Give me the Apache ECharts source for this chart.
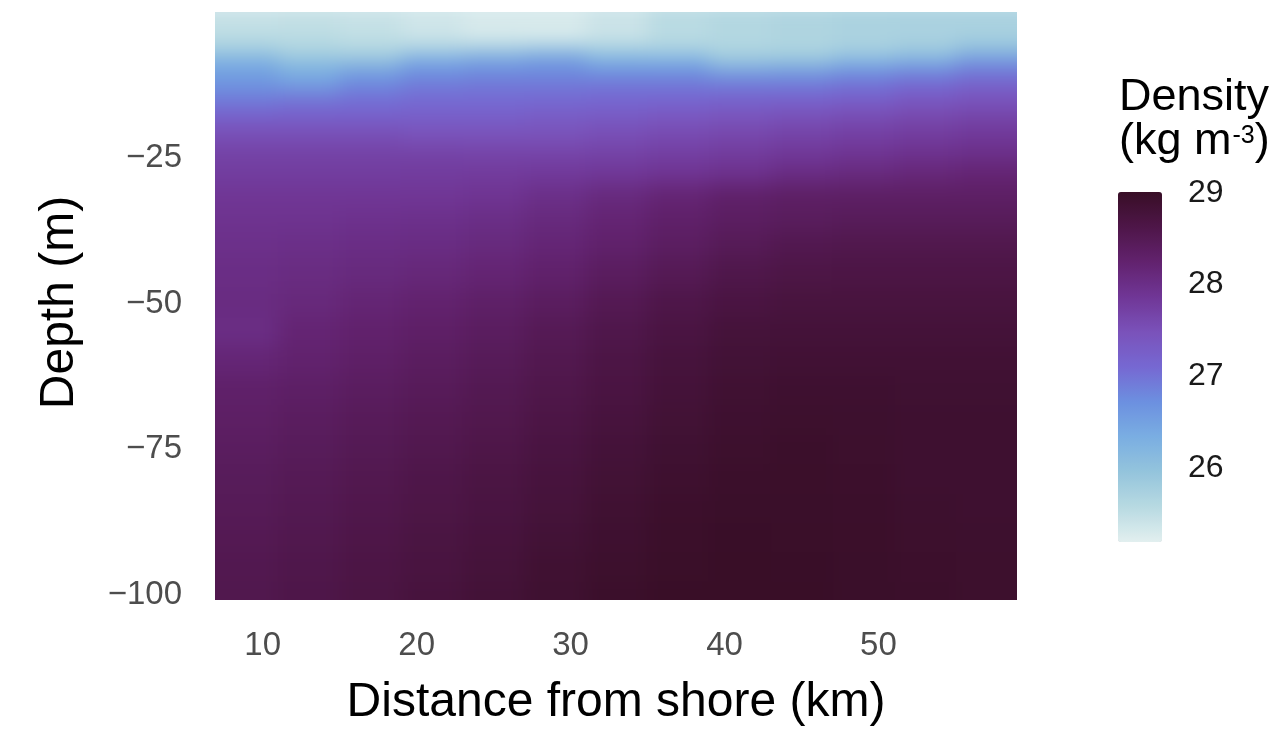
<!DOCTYPE html>
<html>
<head>
<meta charset="utf-8">
<script src="https://cdn.jsdelivr.net/npm/echarts@6/dist/echarts.min.js"></script>
<style>
  html, body { margin: 0; padding: 0; background: #fff; }
  #wrap { position: relative; width: 1286px; height: 732px; }
  #field, #frame { position: absolute; left: 0; top: 0; width: 1286px; height: 732px; }
  /* the tiles are blurred a bit to get the smooth raster look, then cut to the panel */
  #field { filter: blur(10px); clip-path: inset(12px 269px 132px 215px); }
</style>
</head>
<body>
<div id="wrap"><div id="field"></div><div id="frame"></div></div>
<script>
// stations (km from shore) and sampled depths (m)
var distances = [9, 13, 17, 21, 25, 29, 33, 37, 41, 45, 49, 53, 57];
var depths = [-1, -3, -5, -7, -9, -11, -13, -15, -17, -19, -22, -25, -28, -32, -36, -40,
  -45, -50, -55, -60, -65, -70, -75, -80, -85, -90, -95, -100];

// density (kg m-3), one row per depth, one column per station
var density = [
  [25.40, 25.42, 25.40, 25.35, 25.30, 25.30, 25.40, 25.55, 25.60, 25.65, 25.70, 25.70, 25.70],
  [25.48, 25.50, 25.45, 25.35, 25.28, 25.28, 25.40, 25.55, 25.62, 25.67, 25.70, 25.72, 25.72],
  [25.55, 25.55, 25.50, 25.40, 25.28, 25.25, 25.40, 25.55, 25.62, 25.68, 25.72, 25.72, 25.75],
  [25.75, 25.65, 25.60, 25.70, 25.80, 25.90, 25.75, 25.70, 25.65, 25.65, 25.70, 25.80, 26.00],
  [26.30, 26.00, 26.00, 26.40, 26.50, 26.60, 26.30, 26.30, 25.90, 25.95, 26.20, 26.30, 26.60],
  [26.50, 26.35, 26.55, 26.70, 26.75, 26.75, 26.70, 26.70, 26.55, 26.60, 26.70, 26.80, 26.95],
  [26.65, 26.50, 26.75, 26.90, 26.95, 26.95, 26.95, 26.95, 26.90, 26.90, 27.00, 27.10, 27.20],
  [26.85, 26.90, 27.00, 27.05, 27.05, 27.05, 27.10, 27.10, 27.15, 27.15, 27.20, 27.30, 27.40],
  [27.05, 27.10, 27.10, 27.15, 27.15, 27.20, 27.20, 27.25, 27.30, 27.35, 27.40, 27.50, 27.55],
  [27.30, 27.30, 27.30, 27.30, 27.30, 27.35, 27.40, 27.45, 27.50, 27.55, 27.60, 27.65, 27.70],
  [27.55, 27.55, 27.55, 27.50, 27.50, 27.50, 27.55, 27.60, 27.65, 27.70, 27.75, 27.80, 27.85],
  [27.70, 27.70, 27.70, 27.70, 27.68, 27.68, 27.70, 27.75, 27.80, 27.85, 27.90, 27.95, 28.00],
  [27.77, 27.77, 27.77, 27.78, 27.80, 27.82, 27.85, 27.90, 27.95, 28.05, 28.10, 28.15, 28.20],
  [27.87, 27.87, 27.87, 27.87, 27.90, 28.00, 28.10, 28.20, 28.30, 28.35, 28.35, 28.35, 28.35],
  [27.93, 27.93, 27.95, 27.97, 28.02, 28.10, 28.20, 28.30, 28.38, 28.42, 28.45, 28.45, 28.45],
  [27.98, 28.00, 28.03, 28.05, 28.10, 28.18, 28.28, 28.38, 28.48, 28.55, 28.58, 28.58, 28.58],
  [28.03, 28.06, 28.10, 28.14, 28.20, 28.28, 28.40, 28.50, 28.60, 28.65, 28.66, 28.66, 28.66],
  [28.06, 28.12, 28.19, 28.25, 28.32, 28.40, 28.52, 28.62, 28.70, 28.74, 28.74, 28.74, 28.74],
  [28.04, 28.20, 28.27, 28.33, 28.40, 28.50, 28.60, 28.70, 28.78, 28.80, 28.80, 28.80, 28.80],
  [28.18, 28.26, 28.33, 28.40, 28.47, 28.56, 28.66, 28.76, 28.83, 28.85, 28.85, 28.85, 28.85],
  [28.30, 28.34, 28.40, 28.46, 28.53, 28.61, 28.70, 28.80, 28.87, 28.90, 28.90, 28.88, 28.88],
  [28.35, 28.40, 28.46, 28.52, 28.58, 28.66, 28.75, 28.84, 28.90, 28.93, 28.92, 28.90, 28.90],
  [28.40, 28.45, 28.51, 28.57, 28.63, 28.71, 28.80, 28.88, 28.93, 28.95, 28.93, 28.90, 28.90],
  [28.45, 28.50, 28.56, 28.62, 28.68, 28.75, 28.84, 28.91, 28.95, 28.96, 28.94, 28.90, 28.90],
  [28.48, 28.53, 28.59, 28.65, 28.71, 28.79, 28.87, 28.94, 28.97, 28.97, 28.95, 28.92, 28.90],
  [28.52, 28.57, 28.63, 28.69, 28.75, 28.83, 28.90, 28.96, 28.99, 28.98, 28.96, 28.93, 28.92],
  [28.55, 28.60, 28.66, 28.72, 28.79, 28.87, 28.93, 28.98, 29.00, 28.99, 28.97, 28.94, 28.93],
  [28.57, 28.62, 28.68, 28.75, 28.82, 28.89, 28.95, 29.00, 29.00, 29.00, 28.97, 28.95, 28.93]
];

var xTicks = [10, 20, 30, 40, 50];
var yTicks = [-25, -50, -75, -100];
var legendTicks = [26, 27, 28, 29];
var densityMin = 25.19;
var densityMax = 29.01;
var densityColors = ['#e2efef', '#b8dae2', '#94c4dc', '#7aaee2', '#6c90e0', '#7668d2',
  '#7a52ba', '#703696', '#62226e', '#4e1648', '#380e26'];

var font = "'Liberation Sans', Arial, Helvetica, sans-serif";

function cellEdges(v) {
  var e = [v[0] - (v[1] - v[0]) / 2];
  for (var i = 1; i < v.length; i++) {
    e.push((v[i - 1] + v[i]) / 2);
  }
  e.push(v[v.length - 1] + (v[v.length - 1] - v[v.length - 2]) / 2);
  return e;
}
var xEdges = cellEdges(distances);
var yEdges = cellEdges(depths);

var cells = [];
depths.forEach(function (d, ri) {
  distances.forEach(function (x, ci) {
    cells.push([x, d, density[ri][ci], ci, ri]);
  });
});

var panel = { left: 215, right: 269, top: 12, bottom: 132 };

function renderCell(params, api) {
  var ci = api.value(3), ri = api.value(4);
  var p0 = api.coord([xEdges[ci], yEdges[ri]]);
  var p1 = api.coord([xEdges[ci + 1], yEdges[ri + 1]]);
  var x0 = p0[0], y0 = p0[1], x1 = p1[0], y1 = p1[1];
  // stretch the outer tiles past the panel so the blur does not fade the edges
  if (ci === 0) x0 -= 50;
  if (ci === distances.length - 1) x1 += 50;
  if (ri === 0) y0 -= 50;
  if (ri === depths.length - 1) y1 += 50;
  return {
    type: 'rect',
    shape: { x: x0, y: y0, width: x1 - x0 + 1, height: y1 - y0 + 1 },
    style: { fill: api.visual('color') }
  };
}

// ---- tiles ----
var field = echarts.init(document.getElementById('field'));
field.setOption({
  animation: false,
  grid: panel,
  xAxis: { type: 'value', min: 6.9, max: 59, show: false },
  yAxis: { type: 'value', min: -100.5, max: -0.7, show: false },
  visualMap: {
    show: false,
    dimension: 2,
    min: densityMin,
    max: densityMax,
    inRange: { color: densityColors }
  },
  series: [{
    type: 'custom',
    clip: false,
    renderItem: renderCell,
    encode: { x: 0, y: 1 },
    data: cells
  }]
});

// ---- axes, labels, colour bar ----
var frame = echarts.init(document.getElementById('frame'));
frame.setOption({
  animation: false,
  backgroundColor: 'transparent',
  textStyle: { fontFamily: font },
  title: {
    left: 1119,
    top: 76,
    padding: 0,
    text: 'Density\n(kg m{sup|-3})',
    textStyle: {
      fontFamily: font,
      fontSize: 45,
      fontWeight: 'normal',
      color: '#000',
      lineHeight: 44,
      rich: {
        sup: { fontFamily: font, fontSize: 25, lineHeight: 25, verticalAlign: 'top', padding: [4, 0, 0, 1], color: '#000' }
      }
    }
  },
  grid: [
    panel,
    { left: 1118, top: 192, width: 44, height: 350 }
  ],
  xAxis: [{
    type: 'value',
    min: 6.9,
    max: 59,
    axisLine: { show: false },
    axisTick: { show: false },
    splitLine: { show: false },
    axisLabel: { customValues: xTicks, color: '#4d4d4d', fontSize: 33, margin: 36 },
    name: 'Distance from shore (km)',
    nameLocation: 'middle',
    nameGap: 86,
    nameTextStyle: { fontSize: 48, color: '#000' }
  }, {
    gridIndex: 1, type: 'value', min: 0, max: 1, show: false
  }],
  yAxis: [{
    type: 'value',
    min: -100.5,
    max: -0.7,
    axisLine: { show: false },
    axisTick: { show: false },
    splitLine: { show: false },
    axisLabel: {
      customValues: yTicks,
      color: '#4d4d4d',
      fontSize: 33,
      margin: 33,
      verticalAlign: 'top',
      lineHeight: 9,
      formatter: function (v) { return String(v).replace('-', '\u2212'); }
    },
    name: 'Depth (m)',
    nameLocation: 'middle',
    nameRotate: 90,
    nameGap: 131,
    nameTextStyle: { fontSize: 48, color: '#000' }
  }, {
    gridIndex: 1,
    type: 'value',
    position: 'right',
    min: densityMin,
    max: densityMax,
    axisLine: { show: false },
    splitLine: { show: false },
    axisTick: { customValues: legendTicks, inside: true, length: 8, lineStyle: { color: '#fff', width: 2 } },
    axisLabel: { customValues: legendTicks, color: '#1a1a1a', fontSize: 32, margin: 26 }
  }, {
    gridIndex: 1,
    type: 'value',
    position: 'left',
    min: densityMin,
    max: densityMax,
    axisLine: { show: false },
    splitLine: { show: false },
    axisTick: { customValues: legendTicks, inside: true, length: 8, lineStyle: { color: '#fff', width: 2 } },
    axisLabel: { show: false }
  }],
  visualMap: {
    type: 'continuous',
    dimension: 2,
    min: densityMin,
    max: densityMax,
    calculable: false,
    hoverLink: false,
    left: 1118,
    top: 192,
    padding: 0,
    itemWidth: 44,
    itemHeight: 350,
    inRange: { color: densityColors },
    z: 1
  },
  series: [{
    type: 'custom',
    renderItem: function () { return null; },
    encode: { x: 0, y: 1 },
    data: cells,
    silent: true
  }]
});
</script>
</body>
</html>
